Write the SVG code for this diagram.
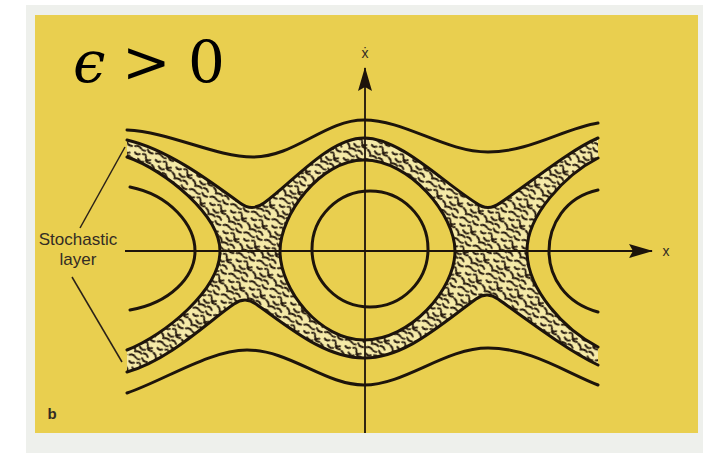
<svg xmlns="http://www.w3.org/2000/svg" width="716" height="453" viewBox="0 0 716 453">
<style>
.curve{fill:none;stroke:#1d140b;stroke-width:3;stroke-linecap:round;stroke-linejoin:round}
.axis{fill:none;stroke:#1d140b;stroke-width:1.8}
.lead{fill:none;stroke:#2a2118;stroke-width:1.5}
.lbl{font-family:"Liberation Sans",Arial,sans-serif;fill:#332c24}
</style>
<defs>
<marker id="arr" markerUnits="userSpaceOnUse" markerWidth="24" markerHeight="14" refX="23" refY="7" orient="auto">
<path d="M0,0 L24,7 L0,14 L4,7 z" fill="#1d140b"/>
</marker>
<pattern id="noise" width="22" height="22" patternUnits="userSpaceOnUse" patternTransform="rotate(20)">
<rect width="22" height="22" fill="#f5eaa8"/>
<g fill="none" stroke="#24180d" stroke-width="1.9" stroke-linecap="round">
<path d="M1,3 q3,-2 6,0 t5,1"/>
<path d="M14,2 q2,3 6,2"/>
<path d="M3,9 q2,2 5,0"/>
<path d="M11,8 q3,-2 4,2 t5,1"/>
<path d="M1,15 q3,1 4,4"/>
<path d="M8,14 q3,3 6,1"/>
<path d="M16,13 q2,2 5,1"/>
<path d="M5,20 q4,-2 7,0"/>
<path d="M14,19 q3,-1 5,2"/>
</g>
</pattern>
</defs>

<rect x="0" y="0" width="716" height="453" fill="#ffffff"/>
<rect x="26" y="5" width="677" height="448" fill="#eef0ec"/>
<rect x="35" y="15" width="663" height="418" fill="#e9cf4f"/>

<g id="stochastic-layer">
<path fill="url(#noise)" fill-rule="evenodd" d="M127,140 C170,150 215,185 240,203 Q252,212 264,203 C295,180 330,138 364,138 C400,138 440,180 476,203 Q488,212 500,203 C530,183 570,150 598,138 L598,158 C565,175 527,215 527,251 C527,290 565,330 598,347 L598,365 C570,352 530,322 498,299 Q487,291 476,299 C440,325 405,358 364,358 C325,358 290,328 256,304 Q245,296 234,304 C210,320 170,360 127,372 L127,350 C165,335 220,290 220,251 C220,215 165,170 127,157 Z M280,251 C280,215 320,160 364,160 C410,160 455,215 455,251 C455,290 410,340 364,340 C320,340 280,290 280,251 Z"/>
<path class="curve" d="M127,140 C170,150 215,185 240,203 Q252,212 264,203 C295,180 330,138 364,138 C400,138 440,180 476,203 Q488,212 500,203 C530,183 570,150 598,138"/>
<path class="curve" d="M127,372 C170,360 210,320 234,304 Q245,296 256,304 C290,328 325,358 364,358 C405,358 440,325 476,299 Q487,291 498,299 C530,322 570,352 598,365"/>
<path class="curve" d="M127,157 C165,170 220,215 220,251 C220,290 165,335 127,350"/>
<path class="curve" d="M598,158 C565,175 527,215 527,251 C527,290 565,330 598,347"/>
<path class="curve" d="M280,251 C280,215 320,160 364,160 C410,160 455,215 455,251 C455,290 410,340 364,340 C320,340 280,290 280,251 Z"/>
</g>

<g id="orbits">
<path class="curve" d="M127,130 C170,132 215,157 253,157 C295,157 325,120 364,120 C405,120 445,152 488,152 C530,152 565,128 598,123"/>
<path class="curve" d="M127,393 C165,380 210,350 247,350 C290,350 325,385 364,385 C405,385 445,348 488,348 C530,348 565,372 598,385"/>
<path class="curve" d="M130,187 C170,195 195,225 195,251 C195,277 170,303 130,310"/>
<path class="curve" d="M598,190 C565,197 549,225 549,251 C549,277 565,303 598,312"/>
<ellipse class="curve" cx="370" cy="249" rx="58" ry="58"/>
</g>

<g id="axes">
<line class="axis" x1="365" y1="433" x2="365" y2="68" marker-end="url(#arr)"/>
<line class="axis" x1="125" y1="251" x2="652" y2="251" marker-end="url(#arr)"/>
<text class="lbl" x="365" y="58" font-size="14" text-anchor="middle">ẋ</text>
<text class="lbl" x="666" y="256" font-size="14" text-anchor="middle">x</text>
</g>

<g id="label">
<line class="lead" x1="80" y1="228" x2="125" y2="147"/>
<line class="lead" x1="72" y1="277" x2="122" y2="362"/>
<text class="lbl" x="78" y="245" font-size="17" text-anchor="middle">Stochastic</text>
<text class="lbl" x="78" y="265" font-size="17" text-anchor="middle">layer</text>
<text class="lbl" x="52" y="419" font-size="15" font-weight="bold" text-anchor="middle" fill="#2a2118">b</text>
</g>

<g id="title" font-family="'DejaVu Serif','Liberation Serif',serif" font-size="58" fill="#000">
<text x="73" y="82"><tspan font-style="italic">ϵ</tspan><tspan x="122">&gt;</tspan><tspan x="188">0</tspan></text>
</g>
</svg>
